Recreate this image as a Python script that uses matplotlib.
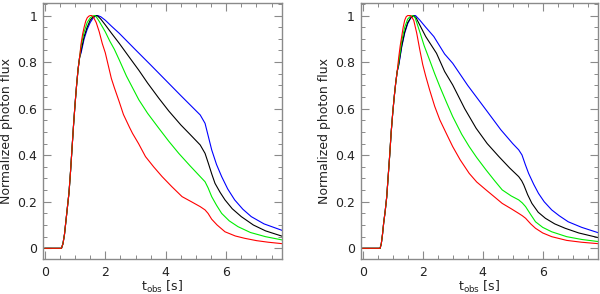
import numpy as np
import matplotlib
matplotlib.use("Agg")
import matplotlib.pyplot as plt
from matplotlib.ticker import MultipleLocator

# ---- left panel: normalized light curves ----
L_rise_t = [0.0, 0.55, 0.6, 0.65, 0.7, 0.75, 0.8, 0.85, 0.9, 0.95, 1.0, 1.05, 1.1, 1.15]
L_rise_y = [0.0, 0.0, 0.02, 0.06, 0.12, 0.18, 0.24, 0.33, 0.43, 0.53, 0.62, 0.70, 0.77, 0.82]

L_red_t = [1.2, 1.25, 1.3, 1.35, 1.4, 1.45, 1.5, 1.55, 1.6, 1.7, 1.8, 1.9, 2.0, 2.2, 2.3, 2.46,
           2.6, 2.8, 2.9, 3.1, 3.33, 3.6, 3.88, 4.2, 4.54, 4.85, 5.14, 5.3, 5.4, 5.52, 5.7,
           5.96, 6.3, 6.61, 7.0, 7.4, 7.85]
L_red_y = [0.88, 0.92, 0.95, 0.975, 0.99, 0.997, 1.0, 1.0, 0.995, 0.97, 0.93, 0.88, 0.84, 0.73,
           0.69, 0.63, 0.575, 0.52, 0.494, 0.45, 0.394, 0.35, 0.308, 0.265, 0.222, 0.2, 0.179,
           0.165, 0.15, 0.125, 0.10, 0.071, 0.053, 0.043, 0.033, 0.026, 0.020]

L_green_t = [1.2, 1.3, 1.4, 1.5, 1.6, 1.65, 1.7, 1.8, 2.0, 2.15, 2.3, 2.46, 2.7, 3.11, 3.4,
             3.77, 4.1, 4.43, 4.8, 5.14, 5.3, 5.4, 5.52, 5.68, 5.85, 6.1, 6.39, 6.8, 7.3, 7.85]
L_green_y = [0.87, 0.93, 0.97, 0.99, 0.999, 1.0, 0.995, 0.975, 0.93, 0.89, 0.855, 0.81, 0.74,
             0.638, 0.58, 0.516, 0.46, 0.408, 0.355, 0.308, 0.286, 0.26, 0.222, 0.185, 0.150,
             0.118, 0.093, 0.068, 0.05, 0.036]

L_black_t = [1.2, 1.3, 1.4, 1.5, 1.6, 1.7, 1.75, 1.85, 2.0, 2.2, 2.46, 2.8, 3.11, 3.4, 3.77,
             4.1, 4.5, 4.8, 5.14, 5.3, 5.41, 5.52, 5.63, 5.8, 5.96, 6.2, 6.5, 6.9, 7.3, 7.85]
L_black_y = [0.85, 0.91, 0.95, 0.98, 0.995, 1.0, 0.998, 0.985, 0.96, 0.925, 0.881, 0.82, 0.765,
             0.71, 0.645, 0.59, 0.53, 0.49, 0.444, 0.408, 0.365, 0.32, 0.279, 0.24, 0.208,
             0.17, 0.136, 0.10, 0.075, 0.052]

L_blue_t = [1.2, 1.3, 1.4, 1.5, 1.6, 1.7, 1.75, 1.85, 2.0, 2.2, 2.46, 3.0, 3.5, 4.0, 4.5, 5.14,
            5.3, 5.41, 5.52, 5.68, 5.85, 6.05, 6.28, 6.55, 6.83, 7.25, 7.85]
L_blue_y = [0.84, 0.90, 0.94, 0.97, 0.99, 0.999, 1.0, 0.995, 0.98, 0.955, 0.924, 0.853, 0.788,
            0.722, 0.656, 0.573, 0.537, 0.48, 0.423, 0.36, 0.308, 0.255, 0.208, 0.168, 0.136,
            0.105, 0.077]

# ---- right panel ----
R_rise_t = [0.0, 0.58, 0.62, 0.66, 0.7, 0.75, 0.8, 0.85, 0.9, 0.95, 1.0, 1.05, 1.1, 1.15]
R_rise_y = [0.0, 0.0, 0.02, 0.06, 0.11, 0.16, 0.22, 0.31, 0.40, 0.50, 0.58, 0.65, 0.71, 0.76]

R_red_t = [1.2, 1.25, 1.3, 1.35, 1.4, 1.45, 1.5, 1.6, 1.7, 1.8, 1.9, 2.0, 2.1, 2.23, 2.4, 2.57,
           2.8, 3.0, 3.25, 3.55, 3.8, 4.11, 4.4, 4.65, 4.95, 5.2, 5.32, 5.43, 5.6, 5.76, 6.0,
           6.3, 6.8, 7.3, 7.85]
R_red_y = [0.82, 0.87, 0.91, 0.95, 0.98, 0.995, 1.0, 1.0, 0.98, 0.925, 0.855, 0.79, 0.74, 0.681,
           0.61, 0.552, 0.49, 0.437, 0.38, 0.322, 0.285, 0.251, 0.22, 0.193, 0.17, 0.150, 0.14,
           0.129, 0.105, 0.086, 0.066, 0.050, 0.034, 0.026, 0.020]

R_green_t = [1.2, 1.3, 1.4, 1.5, 1.6, 1.67, 1.75, 1.9, 2.05, 2.23, 2.4, 2.57, 2.8, 3.0, 3.3,
             3.55, 3.8, 4.11, 4.4, 4.65, 4.95, 5.2, 5.32, 5.43, 5.6, 5.76, 6.0, 6.3, 6.8, 7.3, 7.85]
R_green_y = [0.80, 0.89, 0.95, 0.985, 0.998, 1.0, 0.99, 0.931, 0.87, 0.809, 0.75, 0.695, 0.625,
             0.566, 0.49, 0.437, 0.39, 0.337, 0.29, 0.251, 0.225, 0.208, 0.195, 0.179, 0.145,
             0.114, 0.09, 0.071, 0.05, 0.038, 0.029]

R_black_t = [1.2, 1.3, 1.4, 1.5, 1.6, 1.7, 1.78, 1.9, 2.1, 2.46, 2.73, 3.0, 3.4, 3.78, 4.15,
             4.54, 4.9, 5.2, 5.3, 5.37, 5.5, 5.64, 5.85, 6.09, 6.4, 6.75, 7.2, 7.85]
R_black_y = [0.79, 0.87, 0.93, 0.97, 0.99, 1.0, 0.99, 0.96, 0.91, 0.838, 0.76, 0.702, 0.60,
             0.516, 0.45, 0.394, 0.345, 0.308, 0.29, 0.272, 0.23, 0.193, 0.155, 0.129, 0.105,
             0.086, 0.066, 0.046]

R_blue_t = [1.2, 1.3, 1.4, 1.5, 1.6, 1.7, 1.76, 1.9, 2.1, 2.37, 2.73, 3.0, 3.5, 4.11, 4.6, 5.0,
            5.2, 5.31, 5.42, 5.53, 5.7, 5.86, 6.05, 6.3, 6.55, 6.85, 7.3, 7.85]
R_blue_y = [0.785, 0.865, 0.925, 0.965, 0.99, 0.999, 1.0, 0.981, 0.95, 0.91, 0.835, 0.795, 0.70,
            0.595, 0.51, 0.45, 0.423, 0.401, 0.36, 0.322, 0.275, 0.236, 0.2, 0.165, 0.14, 0.114,
            0.09, 0.067]

COLORS = {"blue": "#0000ff", "black": "#000000", "green": "#00ee00", "red": "#ff0000"}
FRAME = "#8a8a8a"

left_curves = [("blue", L_blue_t, L_blue_y), ("black", L_black_t, L_black_y),
               ("green", L_green_t, L_green_y), ("red", L_red_t, L_red_y)]
right_curves = [("blue", R_blue_t, R_blue_y), ("black", R_black_t, R_black_y),
                ("green", R_green_t, R_green_y), ("red", R_red_t, R_red_y)]

fig = plt.figure(figsize=(6.0, 2.94), dpi=100)
ax1 = fig.add_axes([0.0712, 0.119, 0.398, 0.870])
ax2 = fig.add_axes([0.601, 0.119, 0.395, 0.870])

for ax, rise_t, rise_y, curves in [(ax1, L_rise_t, L_rise_y, left_curves),
                                   (ax2, R_rise_t, R_rise_y, right_curves)]:
    for name, t, y in curves:
        tt = np.concatenate([rise_t, t])
        yy = np.concatenate([rise_y, y])
        ax.plot(tt, yy, color=COLORS[name], lw=0.8)
    ax.set_xlim(-0.07, 7.83)
    ax.set_ylim(-0.046, 1.053)
    ax.xaxis.set_major_locator(MultipleLocator(2))
    ax.xaxis.set_minor_locator(MultipleLocator(0.5))
    ax.yaxis.set_minor_locator(MultipleLocator(0.05))
    ax.set_yticks([0, 0.2, 0.4, 0.6, 0.8, 1.0])
    ax.set_yticklabels(["0", "0.2", "0.4", "0.6", "0.8", "1"])
    ax.tick_params(which="both", direction="in", top=True, right=True,
                   color=FRAME, labelsize=9, labelcolor="#222222")
    ax.tick_params(which="major", length=6, width=0.8)
    ax.tick_params(which="minor", length=3, width=0.7)
    ax.tick_params(axis="x", pad=5)
    ax.tick_params(axis="y", pad=4)
    for sp in ax.spines.values():
        sp.set_color(FRAME)
        sp.set_linewidth(1.0)
    ax.set_xlabel(r"t$_{\rm obs}$ [s]", fontsize=9, color="#222222", labelpad=0)
    ax.set_ylabel("Normalized photon flux", fontsize=9, color="#222222", labelpad=3)

fig.savefig("out.png", dpi=100)
